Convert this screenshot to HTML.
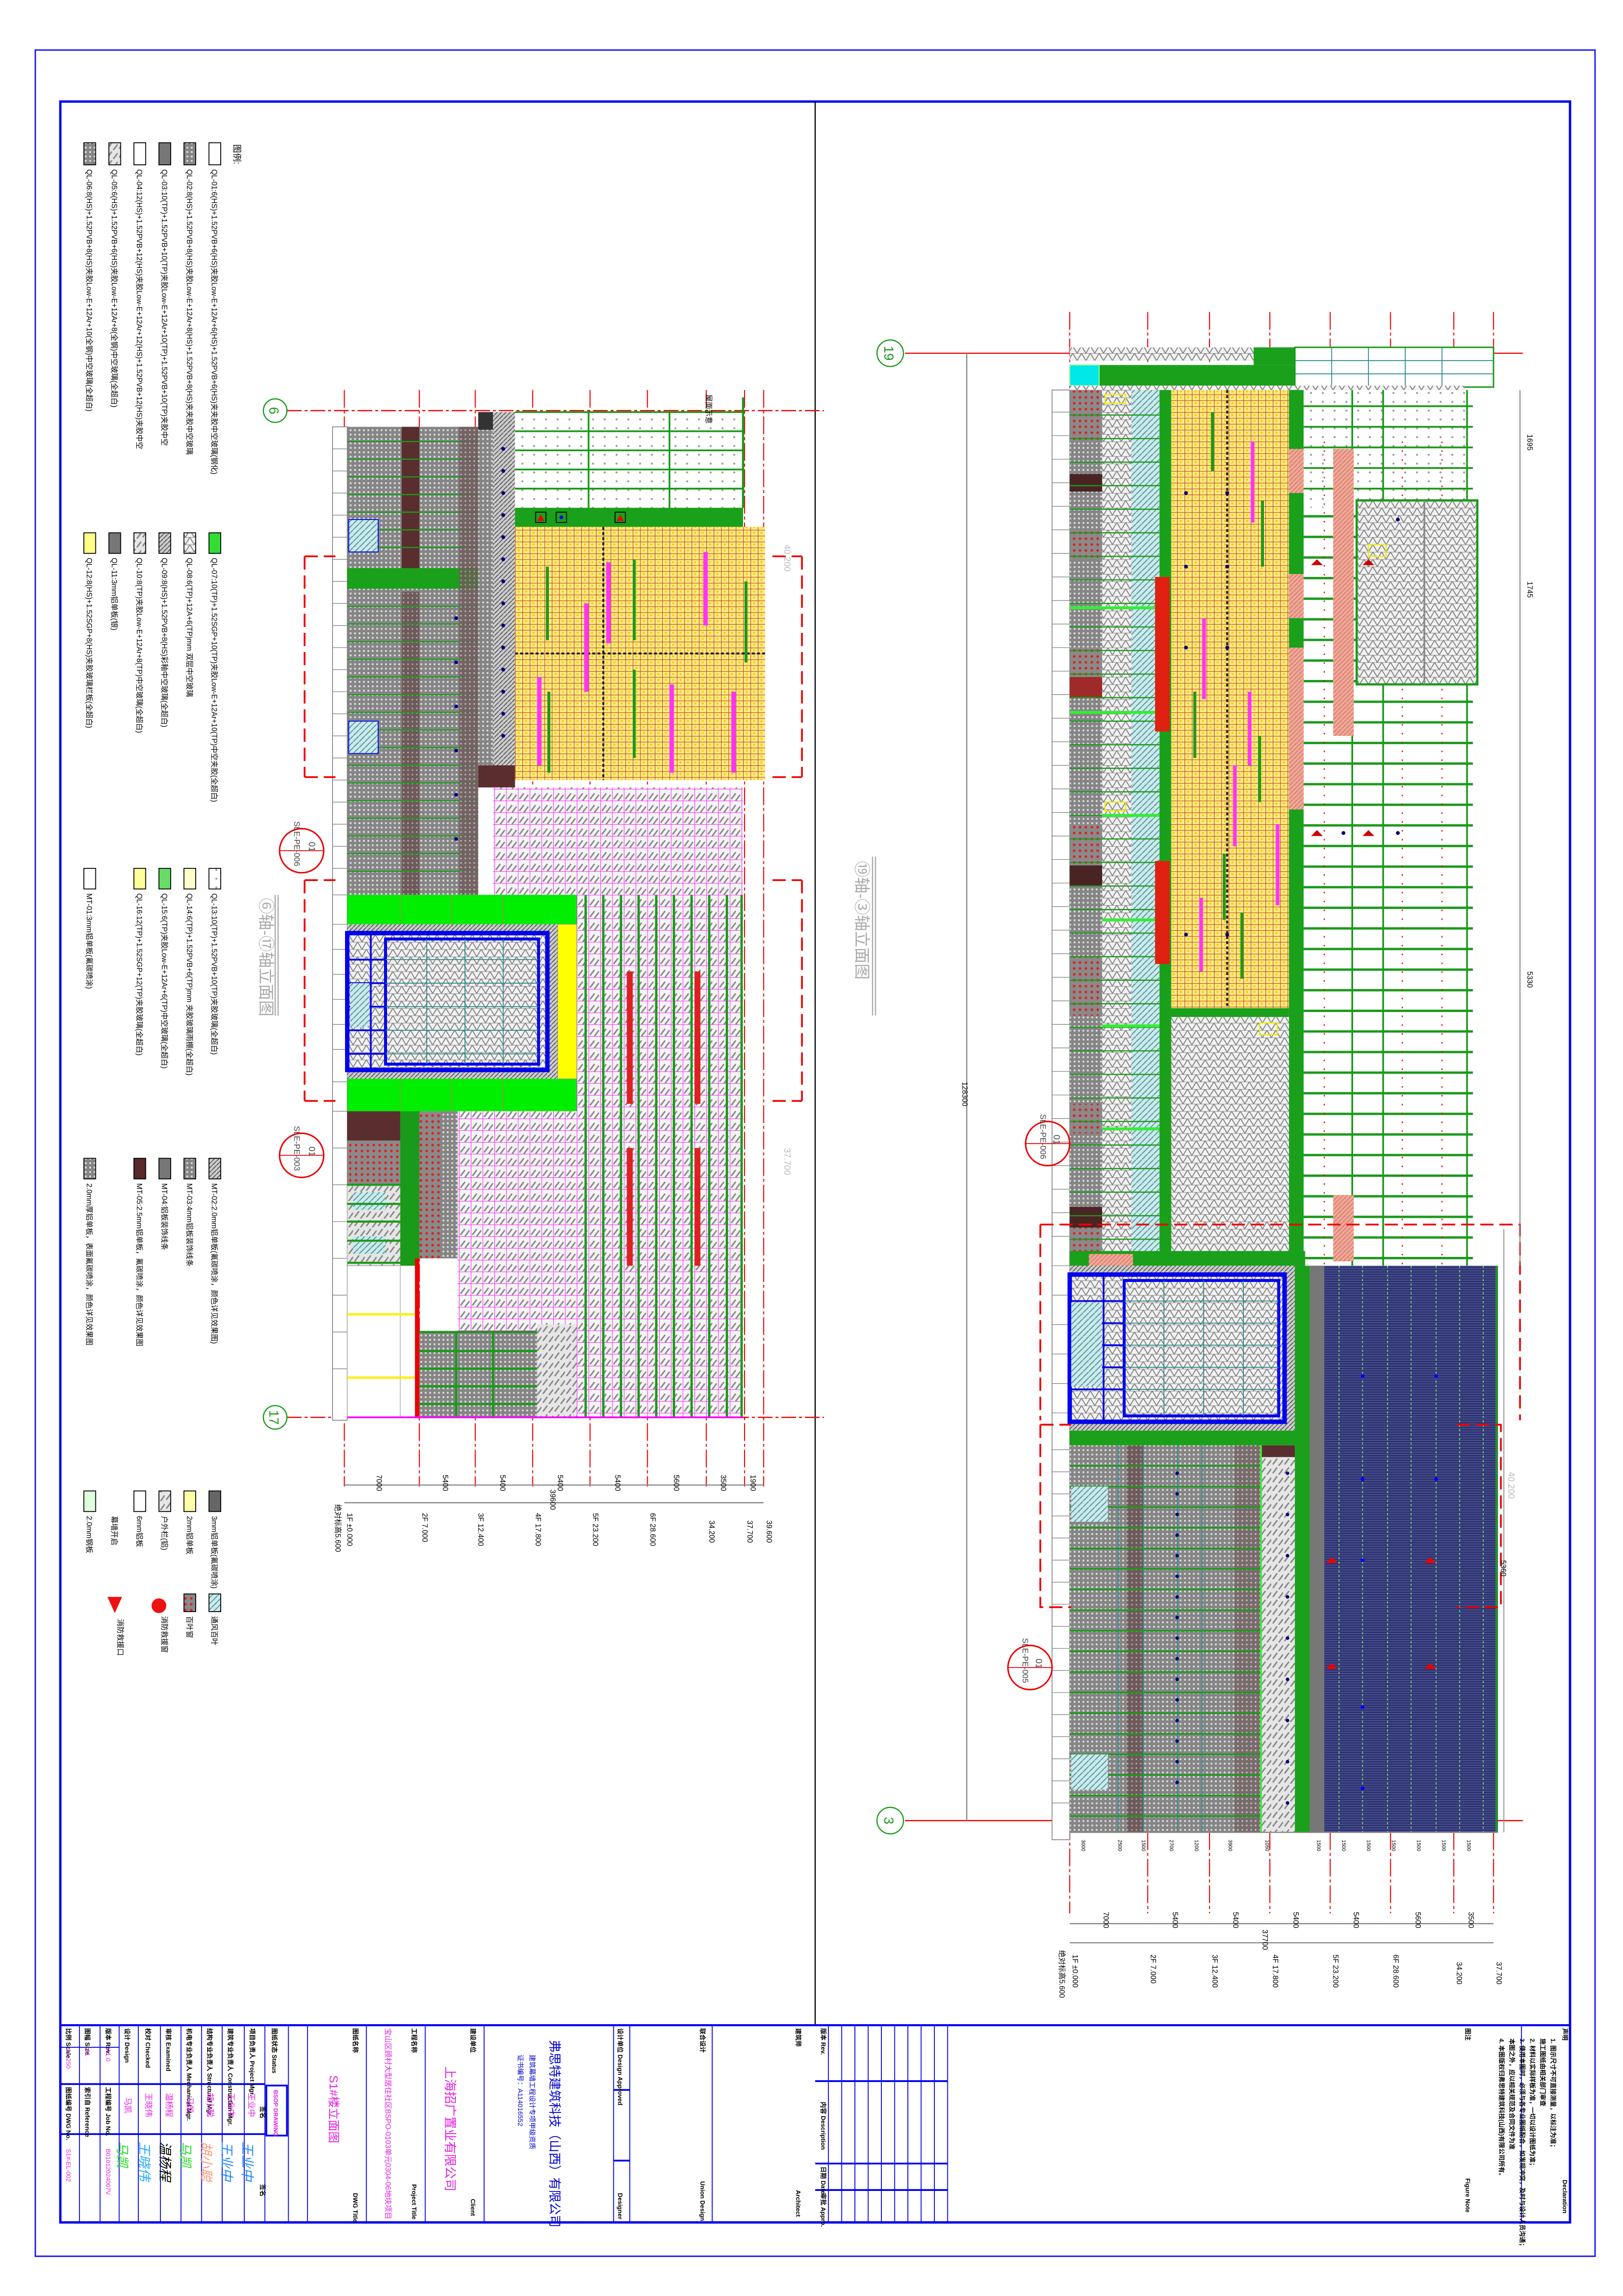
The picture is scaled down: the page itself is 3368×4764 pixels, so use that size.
<!DOCTYPE html>
<html><head><meta charset="utf-8"><style>
html,body{margin:0;padding:0;background:#fff;}
svg{display:block;}
text{font-family:"Liberation Sans","Noto Sans CJK SC",sans-serif;}
</style></head><body>
<svg width="3368" height="4764" viewBox="0 0 1103 1560" preserveAspectRatio="none" xmlns="http://www.w3.org/2000/svg">
<defs>
<pattern id="mesh" width="3" height="3" patternUnits="userSpaceOnUse"><rect width="3" height="3" fill="#858585"/><rect x="0.7" y="0.7" width="1.2" height="1.2" fill="#e0e0e0"/></pattern>
<pattern id="meshd" width="3" height="3" patternUnits="userSpaceOnUse"><rect width="3" height="3" fill="#6e5a5a"/><rect x="0.8" y="0.8" width="1" height="1" fill="#b8a8a8"/></pattern>
<pattern id="tri" width="6" height="5" patternUnits="userSpaceOnUse"><rect width="6" height="5" fill="#f2f2f2"/><path d="M0 5L3 0L6 5M0 0H6" stroke="#7a7a7a" stroke-width="0.6" fill="none"/></pattern>
<pattern id="orng" width="5" height="4" patternUnits="userSpaceOnUse"><rect width="5" height="4" fill="#ffe98a"/><circle cx="2.5" cy="2" r="0.8" fill="#f5d000"/><path d="M0 0H5M0 0V4" stroke="#b8560f" stroke-width="0.8" fill="none"/></pattern>
<pattern id="mag" width="8" height="8" patternUnits="userSpaceOnUse"><rect width="8" height="8" fill="#f4f4f4"/><path d="M1 7L4 3M4 8L7 4" stroke="#888" stroke-width="1"/><path d="M0 0H8M0 0V8" stroke="#ff00ff" stroke-width="0.6" fill="none"/></pattern>
<pattern id="grh" width="8" height="6" patternUnits="userSpaceOnUse"><rect width="8" height="6" fill="#e6e6e6"/><path d="M1 5L4 1M5 6L8 2" stroke="#888" stroke-width="1"/></pattern>
<pattern id="navy" width="4" height="1.6" patternUnits="userSpaceOnUse"><rect width="4" height="1.6" fill="#2d3270"/><rect y="0.9" width="4" height="0.3" fill="#6a70b0"/></pattern>
<pattern id="greenrow" width="10" height="14" patternUnits="userSpaceOnUse"><rect width="10" height="14" fill="#fff"/><rect y="0" width="10" height="1.6" fill="#1a9a1a"/></pattern>
<pattern id="dots" width="8" height="6" patternUnits="userSpaceOnUse"><rect width="8" height="6" fill="#fff"/><circle cx="3" cy="3" r="0.7" fill="#999"/></pattern>
<pattern id="reddot" width="4" height="4" patternUnits="userSpaceOnUse"><rect width="4" height="4" fill="#8a8a8a"/><circle cx="2" cy="2" r="0.9" fill="#e02020"/></pattern>
<pattern id="cyan" width="4" height="4" patternUnits="userSpaceOnUse"><rect width="4" height="4" fill="#bfeff2"/><path d="M0 4L4 0" stroke="#7a7a7a" stroke-width="0.6"/></pattern>
<pattern id="hatch" width="3" height="3" patternUnits="userSpaceOnUse"><rect width="3" height="3" fill="#ccc"/><path d="M0 3L3 0" stroke="#555" stroke-width="0.6"/></pattern>
<pattern id="pink" width="3" height="3" patternUnits="userSpaceOnUse"><rect width="3" height="3" fill="#f0a898"/><path d="M0 3L3 0" stroke="#d07060" stroke-width="0.5"/></pattern>
</defs>

<!-- frames -->
<rect x="24" y="34" width="1060" height="1499" fill="none" stroke="#2020ff" stroke-width="1"/>
<rect x="41" y="69" width="1026" height="1441" fill="none" stroke="#0000ee" stroke-width="1.6"/>
<line x1="554" y1="69" x2="554" y2="1376" stroke="#000" stroke-width="0.8"/>
<line x1="41" y1="1376" x2="1067" y2="1376" stroke="#0000ee" stroke-width="1.4"/>

<!-- ===== LEGEND ===== -->
<g font-size="5" fill="#000">
<text transform="translate(159,98) rotate(90)" font-size="6">图例:</text>
<g stroke="#000" stroke-width="0.6">
<rect x="142" y="97" width="8" height="15" fill="#fff"/>
<rect x="125" y="97" width="8" height="15" fill="url(#mesh)"/>
<rect x="108" y="97" width="8" height="15" fill="#777"/>
<rect x="91" y="97" width="8" height="15" fill="#fff"/>
<rect x="74" y="97" width="8" height="15" fill="url(#grh)"/>
<rect x="57" y="97" width="8" height="15" fill="url(#mesh)"/>
</g>
<text transform="translate(144,115) rotate(90)">QL-01:6(HS)+1.52PVB+6(HS)夹胶Low-E+12Ar+6(HS)+1.52PVB+6(HS)夹夹胶中空玻璃(钢化)</text>
<text transform="translate(127,115) rotate(90)">QL-02:8(HS)+1.52PVB+8(HS)夹胶Low-E+12Ar+8(HS)+1.52PVB+8(HS)夹夹胶中空玻璃</text>
<text transform="translate(110,115) rotate(90)">QL-03:10(TP)+1.52PVB+10(TP)夹胶Low-E+12Ar+10(TP)+1.52PVB+10(TP)夹胶中空</text>
<text transform="translate(93,115) rotate(90)">QL-04:12(HS)+1.52PVB+12(HS)夹胶Low-E+12Ar+12(HS)+1.52PVB+12(HS)夹胶中空</text>
<text transform="translate(76,115) rotate(90)">QL-05:6(HS)+1.52PVB+6(HS)夹胶Low-E+12Ar+8(全钢)中空玻璃(全超白)</text>
<text transform="translate(59,115) rotate(90)">QL-06:8(HS)+1.52PVB+8(HS)夹胶Low-E+12Ar+10(全钢)中空玻璃(全超白)</text>

<g stroke="#000" stroke-width="0.6">
<rect x="142" y="362" width="8" height="14" fill="#33dd33"/>
<rect x="125" y="362" width="8" height="14" fill="url(#tri)"/>
<rect x="108" y="362" width="8" height="14" fill="url(#hatch)"/>
<rect x="91" y="362" width="8" height="14" fill="url(#grh)"/>
<rect x="74" y="362" width="8" height="14" fill="#777"/>
<rect x="57" y="362" width="8" height="14" fill="#ffff88"/>
</g>
<text transform="translate(144,379) rotate(90)">QL-07:10(TP)+1.52SGP+10(TP)夹胶Low-E+12Ar+10(TP)中空夹胶(全超白)</text>
<text transform="translate(127,379) rotate(90)">QL-08:6(TP)+12A+6(TP)mm 双层中空玻璃</text>
<text transform="translate(110,379) rotate(90)">QL-09:8(HS)+1.52PVB+8(HS)彩釉中空玻璃(全超白)</text>
<text transform="translate(93,379) rotate(90)">QL-10:8(TP)夹胶Low-E+12Ar+8(TP)中空玻璃(全超白)</text>
<text transform="translate(76,379) rotate(90)">QL-11:3mm铝单板(银)</text>
<text transform="translate(59,379) rotate(90)">QL-12:8(HS)+1.52SGP+8(HS)夹胶玻璃栏板(全超白)</text>

<g stroke="#000" stroke-width="0.6">
<rect x="142" y="590" width="8" height="14" fill="url(#dots)"/>
<rect x="125" y="590" width="8" height="14" fill="#ffffcc"/>
<rect x="108" y="590" width="8" height="14" fill="#66dd66"/>
<rect x="91" y="590" width="8" height="14" fill="#ffff99"/>
<rect x="57" y="590" width="8" height="14" fill="#fff"/>
</g>
<text transform="translate(144,607) rotate(90)">QL-13:10(TP)+1.52PVB+10(TP)夹胶玻璃(全超白)</text>
<text transform="translate(127,607) rotate(90)">QL-14:6(TP)+1.52PVB+6(TP)mm 夹胶玻璃雨棚(全超白)</text>
<text transform="translate(110,607) rotate(90)">QL-15:6(TP)夹胶Low-E+12Ar+6(TP)中空玻璃(全超白)</text>
<text transform="translate(93,607) rotate(90)">QL-16:12(TP)+1.52SGP+12(TP)夹胶玻璃(全超白)</text>
<text transform="translate(59,607) rotate(90)">MT-01:3mm铝单板(氟碳喷涂)</text>

<g stroke="#000" stroke-width="0.6">
<rect x="142" y="787" width="8" height="14" fill="url(#hatch)"/>
<rect x="125" y="787" width="8" height="14" fill="url(#mesh)"/>
<rect x="108" y="787" width="8" height="14" fill="#777"/>
<rect x="91" y="787" width="8" height="14" fill="#5a2a2a"/>
<rect x="57" y="787" width="8" height="14" fill="url(#mesh)"/>
</g>
<text transform="translate(144,804) rotate(90)">MT-02:2.0mm铝单板(氟碳喷涂，颜色详见效果图)</text>
<text transform="translate(127,804) rotate(90)">MT-03:4mm铝板装饰线条</text>
<text transform="translate(110,804) rotate(90)">MT-04:铝板装饰线条</text>
<text transform="translate(93,804) rotate(90)">MT-05:2.5mm铝单板，氟碳喷涂，颜色详见效果图</text>
<text transform="translate(59,804) rotate(90)">2.0mm厚铝单板，表面氟碳喷涂，颜色详见效果图</text>

<g stroke="#000" stroke-width="0.6">
<rect x="142" y="1013" width="8" height="14" fill="#666"/>
<rect x="125" y="1013" width="8" height="14" fill="#ffffaa"/>
<rect x="108" y="1013" width="8" height="14" fill="url(#grh)"/>
<rect x="91" y="1013" width="8" height="14" fill="#fff"/>
<rect x="57" y="1013" width="8" height="14" fill="#ddffdd"/>
</g>
<text transform="translate(144,1030) rotate(90)">3mm铝单板(氟碳喷涂)</text>
<text transform="translate(127,1030) rotate(90)">2mm铝单板</text>
<text transform="translate(110,1030) rotate(90)">户外栏(铝)</text>
<text transform="translate(93,1030) rotate(90)">6mm铝板</text>
<text transform="translate(76,1030) rotate(90)">幕墙开启</text>
<text transform="translate(59,1030) rotate(90)">2.0mm钢板</text>

<rect x="142" y="1083" width="8" height="12" fill="url(#cyan)" stroke="#000" stroke-width="0.6"/>
<rect x="125" y="1083" width="8" height="12" fill="url(#reddot)" stroke="#000" stroke-width="0.6"/>
<circle cx="108" cy="1091" r="5" fill="#ee1111"/>
<path d="M73 1085L83 1085L78 1096Z" fill="#ee1111"/>
<text transform="translate(144,1098) rotate(90)">通风百叶</text>
<text transform="translate(127,1098) rotate(90)">百叶窗</text>
<text transform="translate(110,1098) rotate(90)">消防救援窗</text>
<text transform="translate(80,1100) rotate(90)">消防救援口</text>
</g>

<!-- ===== LEFT DRAWING ===== -->
<g>
<line x1="195" y1="279" x2="560" y2="279" stroke="#e00" stroke-width="0.8" stroke-dasharray="10 2 2 2"/>
<line x1="195" y1="963" x2="560" y2="963" stroke="#e00" stroke-width="0.8" stroke-dasharray="10 2 2 2"/>
<circle cx="187" cy="279" r="8" fill="#fff" stroke="#1a9a1a" stroke-width="0.8"/>
<text x="187" y="283" font-size="9" text-anchor="middle" fill="#1a9a1a" transform="rotate(90 187 279)">6</text>
<circle cx="187" cy="963" r="8" fill="#fff" stroke="#1a9a1a" stroke-width="0.8"/>
<text x="187" y="967" font-size="9" text-anchor="middle" fill="#1a9a1a" transform="rotate(90 187 963)">17</text>
<g stroke="#e00" stroke-width="0.7" stroke-dasharray="12 2 2 2">
<line x1="234" y1="265" x2="234" y2="1010"/><line x1="285" y1="265" x2="285" y2="1010"/>
<line x1="323" y1="265" x2="323" y2="1010"/><line x1="362" y1="265" x2="362" y2="1010"/>
<line x1="401" y1="265" x2="401" y2="1010"/><line x1="440" y1="265" x2="440" y2="1010"/>
<line x1="480" y1="265" x2="480" y2="1010"/><line x1="506" y1="265" x2="506" y2="1010"/>
<line x1="519" y1="265" x2="519" y2="1010"/>
</g>
<rect x="226" y="290" width="10" height="675" fill="#fff" stroke="#777" stroke-width="0.5"/>
<g stroke="#777" stroke-width="0.4" fill="none">
<path d="M226 305H236M226 320H236M226 335H236M226 350H236M226 365H236M226 380H236M226 395H236M226 410H236M226 425H236M226 440H236M226 455H236M226 470H236M226 485H236M226 500H236M226 515H236M226 530H236M226 545H236M226 560H236M226 575H236M226 590H236M226 608H236M226 628H236M226 645H236M226 662H236M226 679H236M226 696H236M226 713H236M226 735H236M226 755H236M226 780H236M226 805H236M226 830H236M226 855H236M226 880H236M226 905H236M226 930H236"/>
</g>
<rect x="236" y="290" width="89" height="318" fill="url(#mesh)"/>
<rect x="273" y="290" width="12" height="100" fill="#5a2e2e"/>
<rect x="273" y="402" width="12" height="206" fill="url(#meshd)"/>
<rect x="236" y="386" width="89" height="14" fill="#1aa01a"/>
<g stroke="#1a9a1a" stroke-width="0.8" fill="none"><path d="M236 300H325M236 312H325M236 324H325M236 336H325M236 348H325M236 360H325M236 372H325M236 412H325M236 424H325M236 436H325M236 448H325M236 460H325M236 472H325M236 484H325M236 496H325M236 508H325M236 520H325M236 532H325M236 544H325M236 556H325M236 568H325M236 580H325M236 592H325"/></g>
<rect x="237" y="353" width="20" height="22" fill="url(#cyan)" stroke="#00f" stroke-width="0.6"/>
<rect x="237" y="490" width="20" height="22" fill="url(#cyan)" stroke="#00f" stroke-width="0.6"/>
<rect x="312" y="290" width="13" height="318" fill="url(#meshd)" opacity="0.8"/>
<rect x="325" y="280" width="10" height="255" fill="url(#mesh)"/>
<rect x="335" y="280" width="15" height="255" fill="url(#hatch)"/>
<rect x="325" y="280" width="10" height="12" fill="#333"/>
<rect x="325" y="520" width="25" height="15" fill="#5a2e2e"/>
<g fill="#00007a"><circle cx="342" cy="305" r="1.3"/><circle cx="342" cy="320" r="1.3"/><circle cx="342" cy="335" r="1.3"/><circle cx="342" cy="350" r="1.3"/><circle cx="342" cy="365" r="1.3"/><circle cx="342" cy="380" r="1.3"/><circle cx="342" cy="395" r="1.3"/><circle cx="342" cy="410" r="1.3"/><circle cx="342" cy="425" r="1.3"/><circle cx="342" cy="440" r="1.3"/><circle cx="342" cy="455" r="1.3"/><circle cx="342" cy="470" r="1.3"/><circle cx="342" cy="485" r="1.3"/><circle cx="342" cy="500" r="1.3"/><circle cx="310" cy="420" r="1.3"/><circle cx="310" cy="450" r="1.3"/><circle cx="310" cy="480" r="1.3"/><circle cx="310" cy="510" r="1.3"/><circle cx="310" cy="540" r="1.3"/><circle cx="310" cy="570" r="1.3"/></g>
<rect x="350" y="280" width="155" height="65" fill="url(#dots)"/>
<g stroke="#1a9a1a" stroke-width="1.2" fill="none"><path d="M350 280H505V345M350 293H505M350 306H505M350 319H505M350 332H505M400 280V345M455 280V345"/></g>
<line x1="505" y1="270" x2="505" y2="345" stroke="#1a9a1a" stroke-width="1.5"/>
<rect x="350" y="345" width="155" height="13" fill="#1aa01a"/>
<rect x="364" y="348" width="7" height="7" fill="none" stroke="#000" stroke-width="0.6"/><path d="M367.5 349.5L370 354H365Z" fill="#e00"/>
<rect x="378" y="348" width="7" height="7" fill="none" stroke="#000" stroke-width="0.6"/><circle cx="381.5" cy="351.5" r="1.3" fill="#00f"/>
<rect x="418" y="348" width="7" height="7" fill="none" stroke="#000" stroke-width="0.6"/><path d="M421.5 349.5L424 354H419Z" fill="#e00"/>
<text transform="translate(480,268) rotate(90)" font-size="5">屋面示意</text>
<rect x="350" y="358" width="170" height="172" fill="url(#orng)"/>
<line x1="350" y1="444" x2="520" y2="444" stroke="#222" stroke-width="1.4" stroke-dasharray="2 1.5"/>
<line x1="410" y1="358" x2="410" y2="530" stroke="#222" stroke-width="1.4" stroke-dasharray="2 1.5"/>
<g fill="#ff33ff"><rect x="412" y="382" width="3" height="55"/><rect x="397" y="410" width="3" height="60"/><rect x="365" y="460" width="3" height="60"/><rect x="455" y="465" width="3" height="60"/><rect x="478" y="375" width="3" height="50"/><rect x="497" y="470" width="3" height="55"/></g>
<g fill="#1a9a1a"><rect x="371" y="385" width="2" height="50"/><rect x="430" y="380" width="2" height="55"/><rect x="372" y="470" width="2" height="55"/><rect x="430" y="455" width="2" height="60"/><rect x="506" y="395" width="2" height="55"/></g>
<rect x="520" y="358" width="5" height="180" fill="#fff"/>
<rect x="335" y="535" width="170" height="73" fill="url(#mag)"/>
<rect x="392" y="608" width="113" height="355" fill="url(#mag)"/>
<g stroke="#1a9a1a" stroke-width="1.6" fill="none"><path d="M398 608V963M410 608V963M422 608V963M434 608V963M446 608V963M458 608V963M470 608V963M482 608V963M494 608V963M504 608V963"/></g>
<rect x="426" y="660" width="4" height="90" fill="#e02020"/>
<rect x="472" y="660" width="4" height="90" fill="#e02020"/>
<rect x="426" y="780" width="4" height="80" fill="#e02020"/>
<rect x="472" y="780" width="4" height="80" fill="#e02020"/>
<rect x="386" y="710" width="4" height="80" fill="#e02020"/>
<rect x="236" y="608" width="156" height="20" fill="#00ee00"/>
<rect x="236" y="733" width="156" height="22" fill="#00ee00"/>
<g stroke="#b08060" stroke-width="0.4" fill="none"><path d="M272 608V628M307 608V628M342 608V628M272 733V755M307 733V755M342 733V755"/></g>
<rect x="236" y="628" width="143" height="105" fill="url(#hatch)"/>
<rect x="236" y="634" width="136" height="93" fill="url(#tri)" stroke="#0000ee" stroke-width="3"/>
<rect x="262" y="638" width="104" height="85" fill="none" stroke="#0000ee" stroke-width="2"/>
<g stroke="#0000ee" stroke-width="1.2" fill="none"><path d="M236 652H262M236 668H262M236 684H262M236 700H262M236 716H262M252 634V727"/></g>
<g stroke="#2a8a8a" stroke-width="0.6" fill="none"><path d="M262 652H366M262 668H366M262 684H366M262 700H366M262 716H366M290 638V723M316 638V723M342 638V723"/></g>
<rect x="238" y="668" width="13" height="30" fill="url(#cyan)"/>
<rect x="379" y="628" width="13" height="105" fill="#ffff00" stroke="#999" stroke-width="0.4"/>
<rect x="236" y="755" width="36" height="20" fill="#5a2e2e"/>
<rect x="236" y="775" width="36" height="30" fill="url(#reddot)"/>
<rect x="236" y="805" width="36" height="55" fill="url(#grh)"/>
<rect x="240" y="810" width="22" height="12" fill="url(#cyan)"/>
<rect x="240" y="840" width="22" height="12" fill="url(#cyan)"/>
<g stroke="#1a9a1a" stroke-width="1.4" fill="none"><path d="M236 805H272M236 818H272M236 830H272M236 843H272M236 858H272"/></g>
<rect x="272" y="755" width="13" height="105" fill="#1a9a1a"/>
<rect x="285" y="755" width="14" height="100" fill="url(#reddot)"/>
<rect x="299" y="755" width="12" height="100" fill="url(#mesh)"/>
<rect x="311" y="755" width="81" height="150" fill="url(#mag)"/>
<rect x="236" y="860" width="36" height="103" fill="#fff" stroke="#aaa" stroke-width="0.5"/>
<line x1="236" y1="893" x2="282" y2="893" stroke="#ffee00" stroke-width="1.5"/>
<line x1="236" y1="936" x2="282" y2="936" stroke="#ffee00" stroke-width="1.5"/>
<rect x="282" y="855" width="3" height="108" fill="#e00"/>
<rect x="285" y="905" width="80" height="58" fill="url(#mesh)"/>
<g stroke="#1a9a1a" stroke-width="1.5" fill="none"><path d="M285 905H365M285 918H365M285 930H365M285 942H365M285 954H365M310 905V963M335 905V963"/></g>
<rect x="365" y="900" width="27" height="63" fill="url(#grh)"/>
<line x1="236" y1="963" x2="505" y2="963" stroke="#ff00ff" stroke-width="1.2"/>
<g fill="none" stroke="#e00" stroke-width="1.2" stroke-dasharray="9 4">
<path d="M207 378V528M545 378V528M207 378H228M207 528H228M525 378H545M525 528H545"/>
<path d="M207 598V748M545 598V748M207 598H228M207 748H228M525 598H545M525 748H545"/>
</g>
<circle cx="205" cy="578" r="15" fill="none" stroke="#e00" stroke-width="1"/>
<line x1="190" y1="578" x2="220" y2="578" stroke="#e00" stroke-width="0.6"/>
<text transform="translate(210,572) rotate(90)" font-size="6" fill="#444">01</text>
<text transform="translate(200,558) rotate(90)" font-size="5.5" fill="#444">SLE-PE-006</text>
<circle cx="205" cy="785" r="15" fill="none" stroke="#e00" stroke-width="1"/>
<line x1="190" y1="785" x2="220" y2="785" stroke="#e00" stroke-width="0.6"/>
<text transform="translate(210,779) rotate(90)" font-size="6" fill="#444">01</text>
<text transform="translate(200,765) rotate(90)" font-size="5.5" fill="#444">SLE-PE-003</text>
<text transform="translate(177,610) rotate(90)" font-size="11" fill="#aaa">⑥轴-⑰轴立面图</text>
<line x1="187" y1="608" x2="187" y2="690" stroke="#aaa" stroke-width="0.8"/>
<line x1="189" y1="608" x2="189" y2="690" stroke="#aaa" stroke-width="0.8"/>
<text transform="translate(533,370) rotate(90)" font-size="6" fill="#bbb">40.200</text>
<text transform="translate(533,780) rotate(90)" font-size="6" fill="#bbb">37.700</text>
<g stroke="#888" stroke-width="0.8"><line x1="234" y1="1009" x2="519" y2="1009"/><line x1="234" y1="1021" x2="519" y2="1021"/></g>
<g font-size="5" fill="#000">
<text transform="translate(256,1002) rotate(90)">7000</text><text transform="translate(301,1002) rotate(90)">5400</text><text transform="translate(340,1002) rotate(90)">5400</text><text transform="translate(379,1002) rotate(90)">5400</text><text transform="translate(418,1002) rotate(90)">5400</text><text transform="translate(458,1002) rotate(90)">5600</text><text transform="translate(490,1002) rotate(90)">3500</text><text transform="translate(510,1002) rotate(90)">1900</text>
<text transform="translate(374,1012) rotate(90)">39600</text>
<text transform="translate(228,1022) rotate(90)">绝对标高5.600</text>
<text transform="translate(236,1028) rotate(90)">1F ±0.000</text><text transform="translate(287,1028) rotate(90)">2F 7.000</text><text transform="translate(325,1028) rotate(90)">3F 12.400</text><text transform="translate(364,1028) rotate(90)">4F 17.800</text><text transform="translate(403,1028) rotate(90)">5F 23.200</text><text transform="translate(442,1028) rotate(90)">6F 28.600</text><text transform="translate(482,1033) rotate(90)">34.200</text><text transform="translate(508,1033) rotate(90)">37.700</text><text transform="translate(521,1033) rotate(90)">39.600</text>
</g>
</g>

<!-- ===== RIGHT DRAWING ===== -->
<g>
<line x1="615" y1="240" x2="1035" y2="240" stroke="#e00" stroke-width="0.8"/>
<line x1="615" y1="1237" x2="1035" y2="1237" stroke="#e00" stroke-width="0.8"/>
<circle cx="605" cy="240" r="9" fill="#fff" stroke="#1a9a1a" stroke-width="0.8"/>
<text x="605" y="244" font-size="9" text-anchor="middle" fill="#1a9a1a" transform="rotate(90 605 240)">19</text>
<circle cx="605" cy="1237" r="9" fill="#fff" stroke="#1a9a1a" stroke-width="0.8"/>
<text x="605" y="1241" font-size="9" text-anchor="middle" fill="#1a9a1a" transform="rotate(90 605 1237)">3</text>
<line x1="657" y1="240" x2="657" y2="1237" stroke="#888" stroke-width="0.8"/>
<text transform="translate(654,735) rotate(90)" font-size="5">128300</text>
<g stroke="#e00" stroke-width="0.7" stroke-dasharray="12 2 2 2">
<line x1="727" y1="212" x2="727" y2="1300"/><line x1="780" y1="212" x2="780" y2="262"/><line x1="822" y1="212" x2="822" y2="262"/><line x1="863" y1="212" x2="863" y2="262"/><line x1="904" y1="212" x2="904" y2="262"/><line x1="945" y1="212" x2="945" y2="262"/><line x1="988" y1="212" x2="988" y2="262"/><line x1="1015" y1="212" x2="1015" y2="262"/>
<line x1="780" y1="1245" x2="780" y2="1300"/><line x1="822" y1="1245" x2="822" y2="1300"/><line x1="863" y1="1245" x2="863" y2="1300"/><line x1="904" y1="1245" x2="904" y2="1300"/><line x1="945" y1="1245" x2="945" y2="1300"/><line x1="988" y1="1245" x2="988" y2="1300"/><line x1="1015" y1="1245" x2="1015" y2="1300"/>
</g>
<rect x="727" y="236" width="125" height="9" fill="url(#tri)"/>
<rect x="852" y="236" width="28" height="12" fill="#1aa01a"/>
<rect x="880" y="236" width="135" height="27" fill="#fff" stroke="#1a9a1a" stroke-width="1"/>
<g stroke="#2a8a8a" stroke-width="0.6" fill="none"><path d="M880 245H1015M880 254H1015M905 236V263M930 236V263M955 236V263M980 236V263"/></g>
<rect x="727" y="248" width="153" height="14" fill="#1aa01a"/>
<rect x="727" y="248" width="20" height="14" fill="#00e8e8" stroke="#9f9" stroke-width="0.6"/>
<rect x="727" y="262" width="268" height="3" fill="url(#tri)"/>
<rect x="715" y="265" width="12" height="985" fill="#fff" stroke="#777" stroke-width="0.5"/>
<path fill="none" d="M715 280H727M715 296H727M715 312H727M715 328H727M715 344H727M715 360H727M715 376H727M715 392H727M715 408H727M715 424H727M715 440H727M715 456H727M715 472H727M715 488H727M715 504H727M715 520H727M715 536H727M715 552H727M715 568H727M715 584H727M715 600H727M715 616H727M715 632H727M715 648H727M715 664H727M715 680H727M715 696H727M715 712H727M715 728H727M715 744H727M715 760H727M715 776H727M715 792H727M715 808H727M715 824H727M715 840H727M715 860H727M715 880H727M715 900H727M715 920H727M715 940H727M715 960H727M715 985H727M715 1000H727M715 1015H727M715 1030H727M715 1045H727M715 1060H727M715 1075H727M715 1090H727M715 1105H727M715 1120H727M715 1135H727M715 1150H727M715 1165H727M715 1180H727M715 1195H727M715 1210H727M715 1225H727" stroke="#777" stroke-width="0.4"/>
<rect x="727" y="265" width="22" height="595" fill="url(#reddot)"/>
<rect x="749" y="265" width="20" height="595" fill="url(#tri)"/>
<rect x="769" y="265" width="19" height="595" fill="url(#cyan)"/>
<rect x="727" y="300" width="22" height="60" fill="url(#mesh)"/>
<rect x="727" y="380" width="22" height="60" fill="url(#mesh)"/>
<rect x="727" y="470" width="22" height="90" fill="url(#mesh)"/>
<rect x="727" y="590" width="22" height="60" fill="url(#mesh)"/>
<rect x="727" y="690" width="22" height="60" fill="url(#mesh)"/>
<rect x="727" y="770" width="22" height="50" fill="url(#mesh)"/>
<rect x="727" y="322" width="22" height="12" fill="#4a2424"/>
<rect x="727" y="588" width="22" height="14" fill="#4a2424"/>
<rect x="727" y="820" width="22" height="14" fill="#4a2424"/>
<rect x="727" y="460" width="22" height="14" fill="#a02a2a"/>
<g stroke="#1a9a1a" stroke-width="0.8" fill="none"><path d="M727 282H788M727 298H788M727 314H788M727 330H788M727 346H788M727 362H788M727 378H788M727 394H788M727 410H788M727 426H788M727 442H788M727 458H788M727 474H788M727 490H788M727 506H788M727 522H788M727 538H788M727 554H788M727 570H788M727 586H788M727 602H788M727 618H788M727 634H788M727 650H788M727 666H788M727 682H788M727 698H788M727 714H788M727 730H788M727 746H788M727 762H788M727 778H788M727 794H788M727 810H788M727 826H788M727 842H788"/></g>
<g stroke="#33ee33" stroke-width="2" fill="none"><path d="M727 413H788M727 484H788M749 554H788M749 625H788M749 697H788M749 767H788"/></g>
<rect x="751" y="268" width="14" height="6" fill="none" stroke="#ee0" stroke-width="0.8"/>
<rect x="751" y="545" width="14" height="6" fill="none" stroke="#ee0" stroke-width="0.8"/>
<rect x="788" y="265" width="8" height="595" fill="#1aa01a"/>
<rect x="785" y="392" width="10" height="105" fill="#e02010"/>
<rect x="785" y="585" width="10" height="70" fill="#e02010"/>
<rect x="796" y="265" width="80" height="420" fill="url(#orng)"/>
<line x1="834" y1="265" x2="834" y2="685" stroke="#222" stroke-width="1.4" stroke-dasharray="2 1.5"/>
<g fill="#ff33ff"><rect x="850" y="300" width="2.5" height="55"/><rect x="817" y="420" width="2.5" height="55"/><rect x="848" y="470" width="2.5" height="50"/><rect x="838" y="520" width="2.5" height="55"/><rect x="815" y="610" width="2.5" height="50"/><rect x="867" y="560" width="2.5" height="55"/></g>
<g fill="#1a9a1a"><rect x="823" y="280" width="2" height="40"/><rect x="857" y="340" width="2" height="45"/><rect x="811" y="470" width="2" height="45"/><rect x="855" y="500" width="2" height="45"/><rect x="831" y="580" width="2" height="45"/><rect x="843" y="620" width="2" height="45"/></g>
<g fill="#00007a"><circle cx="806" cy="335" r="1.3"/><circle cx="834" cy="335" r="1.3"/><circle cx="806" cy="385" r="1.3"/><circle cx="834" cy="385" r="1.3"/><circle cx="806" cy="440" r="1.3"/><circle cx="834" cy="440" r="1.3"/><circle cx="806" cy="635" r="1.3"/><circle cx="834" cy="635" r="1.3"/></g>
<rect x="796" y="685" width="80" height="6" fill="#1aa01a"/>
<rect x="796" y="691" width="80" height="160" fill="url(#tri)"/>
<rect x="856" y="695" width="12" height="8" fill="none" stroke="#ee0" stroke-width="0.8"/>
<rect x="876" y="265" width="10" height="595" fill="#1aa01a"/>
<rect x="876" y="305" width="10" height="30" fill="url(#pink)"/>
<rect x="876" y="390" width="10" height="30" fill="url(#pink)"/>
<rect x="876" y="440" width="10" height="110" fill="url(#pink)"/>
<rect x="886" y="265" width="115" height="595" fill="url(#greenrow)"/>
<rect x="886" y="265" width="115" height="80" fill="url(#dots)"/>
<g stroke="#1a9a1a" stroke-width="1.2" fill="none"><path d="M886 276H1001M886 290H1001M886 304H1001M886 318H1001M886 332H1001M940 265V860M997 265V860M919 265V860"/></g>
<g stroke="#e00" stroke-width="0.8" stroke-dasharray="1 5" fill="none"><path d="M900 300V860M953 300V860M980 300V860"/></g>
<rect x="906" y="305" width="14" height="195" fill="url(#pink)"/>
<rect x="937" y="425" width="8" height="15" fill="url(#pink)"/>
<rect x="958" y="362" width="8" height="8" fill="url(#pink)"/>
<rect x="922" y="340" width="82" height="125" fill="url(#tri)" stroke="#1a9a1a" stroke-width="1.5"/>
<line x1="968" y1="340" x2="968" y2="465" stroke="#888" stroke-width="1.2"/>
<rect x="930" y="370" width="12" height="8" fill="none" stroke="#ee0" stroke-width="0.8"/>
<rect x="906" y="812" width="14" height="45" fill="url(#pink)"/>
<g fill="#c00"><path d="M895 380L899 384H891Z"/><path d="M930 380L934 384H926Z"/><path d="M895 564L899 568H891Z"/><path d="M930 564L934 568H926Z"/></g>
<g fill="#00007a"><circle cx="913" cy="566" r="1.3"/><circle cx="950" cy="566" r="1.3"/><circle cx="950" cy="353" r="1.3"/></g>
<rect x="727" y="850" width="160" height="10" fill="#1aa01a"/>
<rect x="740" y="852" width="30" height="8" fill="url(#pink)"/>
<rect x="727" y="860" width="153" height="112" fill="url(#hatch)"/>
<rect x="727" y="866" width="146" height="100" fill="url(#tri)" stroke="#0000ee" stroke-width="3"/>
<rect x="764" y="870" width="105" height="92" fill="none" stroke="#0000ee" stroke-width="2"/>
<g stroke="#0000ee" stroke-width="1.2" fill="none"><path d="M727 884H764M727 899H764M727 914H764M727 929H764M727 944H764M750 866V966"/></g>
<g stroke="#2a8a8a" stroke-width="0.6" fill="none"><path d="M764 884H869M764 899H869M764 914H869M764 929H869M764 944H869M791 870V962M818 870V962M845 870V962"/></g>
<rect x="728" y="885" width="21" height="57" fill="url(#cyan)"/>
<rect x="727" y="972" width="160" height="10" fill="#1aa01a"/>
<rect x="880" y="860" width="10" height="385" fill="#1aa01a"/>
<rect x="890" y="860" width="128" height="385" fill="url(#navy)"/>
<rect x="890" y="860" width="10" height="385" fill="#777"/>
<g stroke="#88ff66" stroke-width="0.5" stroke-dasharray="1.5 1.5" fill="none"><path d="M910 860V1245M926 860V1245M943 860V1245M959 860V1245M976 860V1245M992 860V1245M1008 860V1245"/></g>
<line x1="1017" y1="860" x2="1017" y2="1245" stroke="#1a9a1a" stroke-width="1.4"/>
<g fill="#00f"><circle cx="926" cy="935" r="1.3"/><circle cx="976" cy="935" r="1.3"/><circle cx="926" cy="1005" r="1.3"/><circle cx="976" cy="1005" r="1.3"/><circle cx="926" cy="1060" r="1.3"/><circle cx="926" cy="1160" r="1.3"/><circle cx="926" cy="1215" r="1.3"/></g>
<g fill="#e00"><path d="M905 1058L909 1062H901Z"/><path d="M972 1058L976 1062H968Z"/><path d="M905 1130L909 1134H901Z"/><path d="M972 1130L976 1134H968Z"/></g>
<rect x="727" y="982" width="130" height="263" fill="url(#mesh)"/>
<rect x="766" y="982" width="11" height="263" fill="url(#meshd)"/>
<rect x="839" y="982" width="18" height="263" fill="url(#meshd)" opacity="0.6"/>
<g stroke="#1a9a1a" stroke-width="1.1" fill="none"><path d="M727 996H857M727 1010H857M727 1024H857M727 1038H857M727 1052H857M727 1066H857M727 1080H857M727 1094H857M727 1108H857M727 1122H857M727 1136H857M727 1150H857M727 1164H857M727 1178H857M727 1192H857M727 1206H857M727 1220H857M727 1234H857"/></g>
<g stroke="#2a8a8a" stroke-width="0.6" fill="none"><path d="M760 982V1245M777 982V1245M800 982V1245M817 982V1245M857 982V1245"/></g>
<rect x="728" y="1010" width="25" height="24" fill="url(#cyan)"/>
<rect x="728" y="1192" width="25" height="24" fill="url(#cyan)"/>
<rect x="857" y="982" width="23" height="263" fill="url(#grh)"/>
<rect x="857" y="982" width="23" height="8" fill="#5a2e2e"/>
<line x1="857" y1="982" x2="857" y2="1245" stroke="#33ee33" stroke-width="1.2"/>
<g fill="#00007a"><circle cx="800" cy="1001" r="1.2"/><circle cx="800" cy="1015" r="1.2"/><circle cx="800" cy="1029" r="1.2"/><circle cx="800" cy="1043" r="1.2"/><circle cx="800" cy="1057" r="1.2"/><circle cx="800" cy="1071" r="1.2"/><circle cx="800" cy="1085" r="1.2"/><circle cx="800" cy="1099" r="1.2"/><circle cx="800" cy="1113" r="1.2"/><circle cx="800" cy="1127" r="1.2"/><circle cx="800" cy="1141" r="1.2"/><circle cx="800" cy="1155" r="1.2"/><circle cx="800" cy="1169" r="1.2"/><circle cx="800" cy="1183" r="1.2"/><circle cx="800" cy="1197" r="1.2"/><circle cx="800" cy="1211" r="1.2"/><circle cx="875" cy="1001" r="1.2"/><circle cx="875" cy="1029" r="1.2"/><circle cx="875" cy="1057" r="1.2"/><circle cx="875" cy="1085" r="1.2"/><circle cx="875" cy="1113" r="1.2"/><circle cx="875" cy="1141" r="1.2"/><circle cx="875" cy="1169" r="1.2"/><circle cx="875" cy="1197" r="1.2"/><circle cx="875" cy="1225" r="1.2"/></g>
<line x1="727" y1="1245" x2="1018" y2="1245" stroke="#888" stroke-width="0.8"/>
<g fill="none" stroke="#e00" stroke-width="1.2" stroke-dasharray="9 4">
<path d="M707 832H1033V965M707 832V965"/>
<path d="M707 968V1092H728M707 968H728M990 968H1020V1092H990"/>
</g>
<line x1="1022" y1="835" x2="1022" y2="1245" stroke="#999" stroke-width="0.7"/>
<text transform="translate(1025,1000) rotate(90)" font-size="6" fill="#bbb">40.200</text>
<circle cx="712" cy="777" r="15" fill="none" stroke="#e00" stroke-width="1"/>
<line x1="697" y1="777" x2="727" y2="777" stroke="#e00" stroke-width="0.6"/>
<text transform="translate(716,771) rotate(90)" font-size="6" fill="#444">01</text>
<text transform="translate(707,757) rotate(90)" font-size="5.5" fill="#444">SLE-PE-006</text>
<circle cx="700" cy="1133" r="15" fill="none" stroke="#e00" stroke-width="1"/>
<line x1="685" y1="1133" x2="715" y2="1133" stroke="#e00" stroke-width="0.6"/>
<text transform="translate(704,1127) rotate(90)" font-size="6" fill="#444">01</text>
<text transform="translate(695,1113) rotate(90)" font-size="5.5" fill="#444">SLE-PE-005</text>
<text transform="translate(582,585) rotate(90)" font-size="11" fill="#aaa">⑲轴-③轴立面图</text>
<line x1="593" y1="582" x2="593" y2="690" stroke="#aaa" stroke-width="0.8"/>
<line x1="595" y1="582" x2="595" y2="690" stroke="#aaa" stroke-width="0.8"/>
<g font-size="5" fill="#000">
<text transform="translate(1038,295) rotate(90)">1695</text><text transform="translate(1038,395) rotate(90)">1745</text><text transform="translate(1038,660) rotate(90)">5330</text><text transform="translate(1020,1060) rotate(90)">5360</text>
</g>
<line x1="1033" y1="265" x2="1033" y2="860" stroke="#888" stroke-width="0.7"/>
<g stroke="#888" stroke-width="0.8"><line x1="727" y1="1307" x2="1015" y2="1307"/><line x1="727" y1="1320" x2="1015" y2="1320"/></g>
<g font-size="5" fill="#000">
<text transform="translate(750,1299) rotate(90)">7000</text><text transform="translate(797,1299) rotate(90)">5400</text><text transform="translate(838,1299) rotate(90)">5400</text><text transform="translate(879,1299) rotate(90)">5400</text><text transform="translate(920,1299) rotate(90)">5400</text><text transform="translate(962,1299) rotate(90)">5600</text><text transform="translate(998,1299) rotate(90)">3500</text>
<text transform="translate(858,1311) rotate(90)">37700</text>
<text transform="translate(720,1325) rotate(90)">绝对标高5.600</text>
<text transform="translate(729,1328) rotate(90)">1F ±0.000</text><text transform="translate(782,1328) rotate(90)">2F 7.000</text><text transform="translate(824,1328) rotate(90)">3F 12.400</text><text transform="translate(865,1328) rotate(90)">4F 17.800</text><text transform="translate(906,1328) rotate(90)">5F 23.200</text><text transform="translate(947,1328) rotate(90)">6F 28.600</text><text transform="translate(990,1333) rotate(90)">34.200</text><text transform="translate(1017,1333) rotate(90)">37.700</text>
</g>
<g font-size="3.5" fill="#000">
<text transform="translate(735,1250) rotate(90)">3000</text><text transform="translate(760,1250) rotate(90)">2500</text><text transform="translate(776,1250) rotate(90)">1500</text><text transform="translate(795,1250) rotate(90)">2700</text><text transform="translate(812,1250) rotate(90)">1200</text><text transform="translate(835,1250) rotate(90)">3900</text><text transform="translate(860,1250) rotate(90)">1050</text><text transform="translate(895,1250) rotate(90)">1500</text><text transform="translate(912,1250) rotate(90)">1500</text><text transform="translate(929,1250) rotate(90)">1500</text><text transform="translate(946,1250) rotate(90)">1500</text><text transform="translate(963,1250) rotate(90)">1500</text><text transform="translate(980,1250) rotate(90)">1500</text><text transform="translate(997,1250) rotate(90)">1500</text>
</g>
</g>

<!-- ===== TITLE BLOCK ===== -->
<g stroke="#0000ee" fill="none">
<g stroke-width="0.6">
<path d="M54 1376V1510M68 1376V1510M81 1376V1510M94 1376V1510M109 1376V1510M123 1376V1510M137 1376V1510M151 1376V1510M166 1376V1510M180 1376V1510M196 1376V1510M209 1376V1510M249 1376V1510M289 1376V1510M329 1376V1510M417 1376V1510M428 1376V1510M484 1376V1510"/>
<path d="M41 1391H81"/>
</g>
<path d="M41 1416H180M41 1450H180" stroke-width="1.2"/>
<rect x="181" y="1417" width="14" height="34" stroke-width="1.2"/>
<path d="M417 1420H428M417 1468H428" stroke-width="1.2"/>
<g stroke-width="0.6"><path d="M563 1376V1510M572 1376V1510M581 1376V1510M590 1376V1510M599 1376V1510M608 1376V1510M617 1376V1510M626 1376V1510M635 1376V1510M644 1376V1510M1034 1376V1510"/></g>
<path d="M554 1414H644M554 1470H644M554 1488H644" stroke-width="1.2"/>
</g>
<g font-size="4.2" fill="#000" font-weight="bold">
<text transform="translate(45,1378) rotate(90)">比例 Scale</text>
<text transform="translate(58,1378) rotate(90)">图幅 Size</text>
<text transform="translate(72,1378) rotate(90)">版本 Rev.</text>
<text transform="translate(85,1378) rotate(90)">设计 Design</text>
<text transform="translate(99,1378) rotate(90)">校对 Checked</text>
<text transform="translate(113,1378) rotate(90)">审核 Examined</text>
<text transform="translate(127,1378) rotate(90)">机电专业负责人 Mechanical Mgr.</text>
<text transform="translate(141,1378) rotate(90)">结构专业负责人 Structural Mgr.</text>
<text transform="translate(155,1378) rotate(90)">建筑专业负责人 Construction Mgr.</text>
<text transform="translate(170,1378) rotate(90)">项目负责人 Project Mgr.</text>
<text transform="translate(185,1378) rotate(90)">图纸状态 Status</text>
<text transform="translate(45,1418) rotate(90)">图纸编号 DWG No.</text>
<text transform="translate(58,1418) rotate(90)">索引自 Reference</text>
<text transform="translate(72,1418) rotate(90)">工程编号 Job No.</text>
<text transform="translate(240,1378) rotate(90)">图纸名称</text>
<text transform="translate(240,1490) rotate(90)">DWG Title</text>
<text transform="translate(280,1378) rotate(90)">工程名称</text>
<text transform="translate(280,1484) rotate(90)">Project Title</text>
<text transform="translate(320,1378) rotate(90)">建设单位</text>
<text transform="translate(320,1494) rotate(90)">Client</text>
<text transform="translate(420,1378) rotate(90)">设计单位 Design Approved</text>
<text transform="translate(420,1490) rotate(90)">Designer</text>
<text transform="translate(476,1378) rotate(90)">联合设计</text>
<text transform="translate(476,1482) rotate(90)">Union Design</text>
<text transform="translate(541,1378) rotate(90)">建筑师</text>
<text transform="translate(541,1488) rotate(90)">Architect</text>
<text transform="translate(177,1431) rotate(90)">签名</text>
<text transform="translate(177,1484) rotate(90)">签名</text>
</g>
<g font-size="4.2" fill="#e020e0">
<text transform="translate(45,1392) rotate(90)">1：250</text>
<text transform="translate(58,1392) rotate(90)">A1</text>
<text transform="translate(72,1392) rotate(90)">A1.0</text>
<text transform="translate(45,1460) rotate(90)">S1#-EL-002</text>
<text transform="translate(72,1460) rotate(90)">B01012024007V</text>
<text transform="translate(85,1425) rotate(90)" font-size="5.5">马凯</text>
<text transform="translate(99,1422) rotate(90)" font-size="5.5">王晓伟</text>
<text transform="translate(113,1422) rotate(90)" font-size="5.5">温杨程</text>
<text transform="translate(127,1425) rotate(90)" font-size="5.5">马凯</text>
<text transform="translate(141,1422) rotate(90)" font-size="5.5">胡小聪</text>
<text transform="translate(155,1422) rotate(90)" font-size="5.5">王业中</text>
<text transform="translate(169,1422) rotate(90)" font-size="5.5">王业中</text>
<text transform="translate(186,1420) rotate(90)" font-size="4" font-weight="bold">BSOP DRAWING</text>
<text transform="translate(224,1410) rotate(90)" font-size="8">S1#楼立面图</text>
<text transform="translate(262,1378) rotate(90)" font-size="5">宝山区顾村大型居住社区BSPO-0103单元0304-06地块项目</text>
<text transform="translate(303,1404) rotate(90)" font-size="8.5">上海招广置业有限公司</text>
</g>
<g fill="#0000cc">
<text transform="translate(374,1386) rotate(90)" font-size="8.5">弗思特建筑科技（山西）有限公司</text>
<text transform="translate(360,1396) rotate(90)" font-size="4.6">建筑幕墙工程设计专项甲级资质</text>
<text transform="translate(352,1396) rotate(90)" font-size="4.6">证书编号：A114016552</text>
</g>
<g font-size="9" font-style="italic">
<text transform="translate(80,1455) rotate(90)" fill="#22dd22">马凯</text>
<text transform="translate(95,1455) rotate(90)" fill="#22aaff">王晓伟</text>
<text transform="translate(109,1455) rotate(90)" fill="#000">温杨程</text>
<text transform="translate(123,1455) rotate(90)" fill="#22dd22">马凯</text>
<text transform="translate(137,1455) rotate(90)" fill="#ff9977">胡小聪</text>
<text transform="translate(151,1455) rotate(90)" fill="#2288ff">王业中</text>
<text transform="translate(165,1455) rotate(90)" fill="#2288ff">王业中</text>
</g>
<g font-size="4.2" fill="#000" font-weight="bold">
<text transform="translate(1062,1378) rotate(90)">声明</text>
<text transform="translate(1062,1481) rotate(90)">Declaration</text>
<text transform="translate(1054,1385) rotate(90)">1. 图示尺寸不可直接测量，以标注为准；</text>
<text transform="translate(1047,1385) rotate(90)">施工图纸由相关部门审查</text>
<text transform="translate(1040,1385) rotate(90)">2. 材料以实际样板为准，一切以设计图纸为准；</text>
<text transform="translate(1033,1385) rotate(90)">3. 使用本图时，必须与各专业图纸配合，如发现冲突，及时与设计人员沟通；</text>
<text transform="translate(1026,1385) rotate(90)">本图之外，应以相关规范及合同文件为准</text>
<text transform="translate(1019,1385) rotate(90)">4. 本图版权归弗思特建筑科技(山西)有限公司所有。</text>
<text transform="translate(996,1378) rotate(90)">图注</text>
<text transform="translate(996,1480) rotate(90)">Figure Note</text>
<text transform="translate(558,1378) rotate(90)">版本 Rev.</text>
<text transform="translate(558,1428) rotate(90)">内容 Description</text>
<text transform="translate(558,1472) rotate(90)">日期 Date</text>
<text transform="translate(558,1490) rotate(90)">审批 Appro.</text>
</g>
</svg>
</body></html>
